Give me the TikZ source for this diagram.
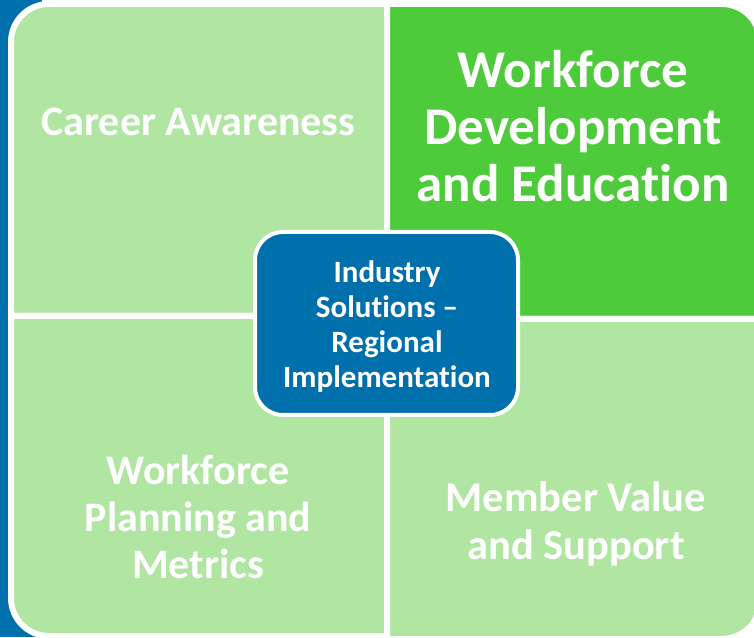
\documentclass[tikz,border=0pt]{standalone}
\usepackage{fontspec}
\setmainfont[Ligatures=NoCommon]{Carlito}
\definecolor{lgreen}{RGB}{176,230,162}
\definecolor{bgreen}{RGB}{78,203,58}
\definecolor{mblue}{RGB}{0,112,173}
\begin{document}
\begin{tikzpicture}[x=1pt,y=1pt,
  quad/.style={draw=white, line width=6pt},
  lbl/.style={text=white, align=center, inner sep=0pt}]
\useasboundingbox (0,0) rectangle (754,637);
\fill[white] (0,0) rectangle (754,637);
\fill[mblue] (0,0) rectangle (42,637);
% top-left
\path[quad, fill=lgreen] (387,321) -- (11,321) -- (11,595) arc (180:90:38) -- (387,633) -- cycle;
% top-right
\path[quad, fill=bgreen] (387,318) -- (387,633) -- (722,633) arc (90:0:38) -- (760,318) -- cycle;
% bottom-left
\path[quad, fill=lgreen] (387,321) -- (11,321) -- (11,39) arc (180:270:38) -- (387,1) -- cycle;
% bottom-right
\path[quad, fill=lgreen] (387,318) -- (387,-2) -- (722,-2) arc (270:360:38) -- (760,318) -- cycle;
% texts
\node[lbl, anchor=base, font=\bfseries\fontsize{42}{50}\selectfont] (ca) at (198.5,501) {Career Awareness};
\node[lbl, font=\bfseries\fontsize{53}{57}\selectfont] (wde) at (573,511) {Workforce\\Development\\and Education};
\node[lbl, font=\bfseries\fontsize{42}{47}\selectfont] (wpm) at (198,120) {Workforce\\Planning and\\Metrics};
\node[lbl, font=\bfseries\fontsize{42.5}{48}\selectfont] (mvs) at (576,113) {Member Value\\and Support};
% center
\node[draw=white, line width=4pt, fill=mblue, rounded corners=28pt,
  minimum width=263pt, minimum height=183pt, inner sep=0pt] (ctr) at (386.5,313.5) {};
\node[lbl, font=\bfseries\fontsize{31}{35}\selectfont] (ctrt) at (387,310) {Industry\\Solutions –\\Regional\\Implementation};
\end{tikzpicture}
\end{document}
